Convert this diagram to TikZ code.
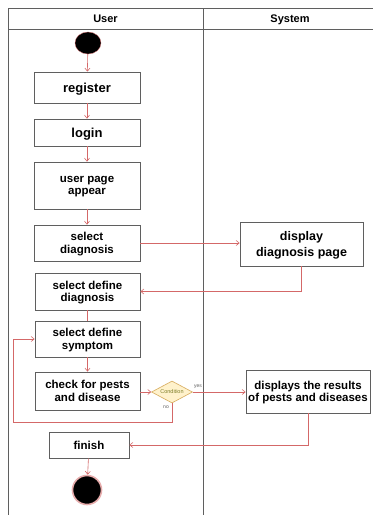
\documentclass[tikz,border=0pt]{standalone}
\usepackage{fontspec}
\setmainfont{Liberation Sans}
\usetikzlibrary{arrows.meta,shapes.geometric}
\definecolor{framegray}{RGB}{95,95,95}
\definecolor{flowred}{RGB}{212,104,104}
\definecolor{decfill}{RGB}{255,242,204}
\definecolor{decline}{RGB}{214,170,90}
\definecolor{dectext}{RGB}{125,125,40}
\begin{document}
\begin{tikzpicture}[x=1pt,y=-1pt,
  actbox/.style={draw=framegray,line width=0.8pt,fill=white,align=center,
    inner sep=0pt,text depth=-4pt,font=\bfseries\fontsize{11.5}{12.5}\selectfont},
  flow/.style={draw=flowred,line width=0.6pt,-{Straight Barb[length=3pt,width=5pt]}},
  plainflow/.style={draw=flowred,line width=0.6pt},
  lane/.style={draw=framegray,line width=0.7pt},
  lanehead/.style={anchor=base,inner sep=0pt,font=\bfseries\fontsize{11}{12}\selectfont},
  tiny/.style={font=\fontsize{5}{5}\selectfont,text=framegray,inner sep=0pt}]
\useasboundingbox (0,0) rectangle (373,515);
\fill[white] (0,0) rectangle (373,515);

% swimlane frame
\draw[lane] (8,515) -- (8,8) -- (373,8);
\draw[lane] (8,29) -- (373,29);
\draw[lane] (203,8) -- (203,515);
\node[lanehead] (hUser) at (105.5,22.5) {User};
\node[lanehead] (hSys) at (290,22.5) {System};

% start and end states
\node[ellipse,fill=black,draw=flowred,line width=0.3pt,minimum width=26pt,minimum height=22pt,inner sep=0pt] (start) at (88,43) {};
\node[circle,fill=black,draw=flowred!55,line width=1.6pt,minimum size=29pt,inner sep=0pt] (stop) at (87,490) {};

% activities in the User lane
\node[actbox,minimum width=106pt,minimum height=31pt,font=\bfseries\fontsize{13}{14}\selectfont] (register) at (87,87.5) {register};
\node[actbox,minimum width=106pt,minimum height=27pt,font=\bfseries\fontsize{13}{14}\selectfont] (login) at (87,132.5) {login};
\node[actbox,minimum width=106pt,minimum height=47pt] (userpage) at (87,185.5) {user page\\appear};
\node[actbox,minimum width=106pt,minimum height=36pt] (seldiag) at (87,243) {select\\diagnosis};
\node[actbox,minimum width=105pt,minimum height=37pt] (defdiag) at (87.5,291.5) {select define\\diagnosis};
\node[actbox,minimum width=105pt,minimum height=36pt] (defsymp) at (87.5,339) {select define\\symptom};
\node[actbox,minimum width=105pt,minimum height=38pt] (check) at (87.5,391) {check for pests\\and disease};
\node[actbox,minimum width=80pt,minimum height=26pt] (finish) at (89,445) {finish};

% decision
\node[diamond,aspect=1.9,draw=decline,fill=decfill,line width=0.6pt,minimum width=41pt,minimum height=22pt,inner sep=0pt,
  font=\fontsize{5.5}{6}\selectfont,text=dectext] (cond) at (172,392) {Condition};

% activities in the System lane
\node[actbox,minimum width=123pt,minimum height=44pt,font=\bfseries\fontsize{12.5}{15.3}\selectfont] (dispdiag) at (301.5,244) {display\\diagnosis page};
\node[actbox,minimum width=124pt,minimum height=43pt] (results) at (308,391.5) {displays the results\\of pests and diseases};

% control flow
\draw[flow] (start) -- (register);
\draw[flow] (register) -- (login);
\draw[flow] (login) -- (userpage);
\draw[flow] (userpage) -- (seldiag);
\draw[flow] (seldiag.east) -- (dispdiag.west |- seldiag.east);
\draw[flow] (dispdiag.south) |- (defdiag.east);
\draw[plainflow] (defdiag) -- (defsymp);
\draw[flow] (defsymp) -- (check);
\draw[flow] (check.east |- cond.west) -- (cond.west);
\draw[flow] (cond.east) -- (results.west |- cond.east);
\coordinate (loopA) at (172,422);
\coordinate (loopB) at (13,422);
\draw[flow] (cond.south) -- (loopA) -- (loopB) |- (defsymp.west);
\draw[flow] (results.south) |- (finish.east);
\draw[flow] (finish) -- (stop);

% guard labels
\node[tiny] (lyes) at (198,387) {yes};
\node[tiny] (lno) at (166,407) {no};
\end{tikzpicture}
\end{document}
